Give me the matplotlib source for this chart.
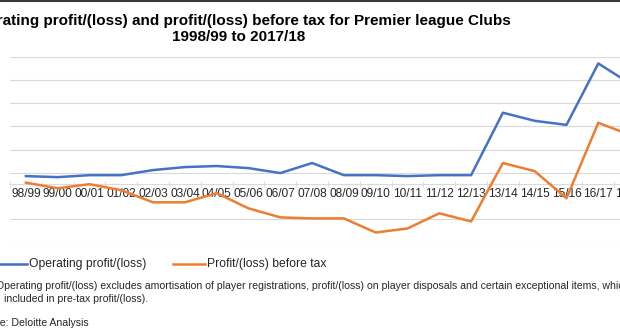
import matplotlib
matplotlib.use("Agg")
import matplotlib.pyplot as plt
from matplotlib.lines import Line2D

# 数据 (£m, 从图上估读)
seasons = ["98/99", "99/00", "00/01", "01/02", "02/03", "03/04", "04/05",
           "05/06", "06/07", "07/08", "08/09", "09/10", "10/11", "11/12",
           "12/13", "13/14", "14/15", "15/16", "16/17", "17/18"]
operating = [70, 61, 78, 78, 122, 148, 157, 139, 96, 183,
             78, 78, 70, 78, 78, 618, 548, 513, 1044, 870]
pretax = [13, -35, 0, -52, -157, -157, -78, -209, -287, -296,
          -296, -418, -383, -252, -322, 183, 113, -122, 531, 426]
grid_vals = [-500, -300, 100, 300, 500, 700, 900, 1100]

BLUE = "#4472C4"
ORANGE = "#ED7D31"
GRID = "#D9D9D9"
TXT = "#262626"

plt.rcParams["font.family"] = ["Liberation Sans", "DejaVu Sans"]

W, H = 620, 330
fig = plt.figure(figsize=(W / 100, H / 100), dpi=100)

# 绘图区 (左边和右边被裁掉了一部分)
ax = fig.add_axes([10 / W, 88 / H, 636 / W, 185 / H])
x = list(range(len(seasons)))
ax.plot(x, operating, color=BLUE, lw=1.8, zorder=3)
ax.plot(x, pretax, color=ORANGE, lw=1.8, zorder=3)

ax.set_xlim(-0.5, len(seasons) - 0.5)
ax.set_ylim(-500, 1100)
ax.set_yticks(grid_vals)
ax.tick_params(axis="y", length=0, labelleft=False)
ax.yaxis.grid(True, color=GRID, lw=0.8)

for s in ["top", "right", "left"]:
    ax.spines[s].set_visible(False)
ax.spines["bottom"].set_position(("data", 0))
ax.spines["bottom"].set_color(GRID)
ax.spines["bottom"].set_linewidth(0.8)

ax.set_xticks(x)
ax.set_xticklabels(seasons, fontsize=8.6, color=TXT)
ax.set_xticks([i - 0.5 for i in x], minor=True)
ax.tick_params(axis="x", which="major", length=0, pad=3)
ax.tick_params(axis="x", which="minor", length=4, color=GRID, direction="inout")

# 标题
fig.text(239 / W, 1 - 29 / H,
         "Operating profit/(loss) and profit/(loss) before tax for Premier league Clubs\n"
         "1998/99 to 2017/18",
         ha="center", va="center", multialignment="center",
         fontsize=11, fontweight="bold", linespacing=1.2)


def px(xp, yp):
    return xp / W, 1 - yp / H


# 图例
for (x0, x1), col, lab in [((-5, 27), BLUE, "Operating profit/(loss)"),
                          ((173, 205), ORANGE, "Profit/(loss) before tax")]:
    fig.add_artist(Line2D([x0 / W, x1 / W], [1 - 264 / H] * 2,
                          color=col, lw=1.8, transform=fig.transFigure))
    fig.text(*px(x1 + 2, 264), lab, ha="left", va="center", fontsize=8.7,
             color=TXT)

# 脚注
fig.text(*px(-4, 286),
         "Operating profit/(loss) excludes amortisation of player registrations, "
         "profit/(loss) on player disposals and certain exceptional items, which are",
         ha="left", va="center", fontsize=7.6, color=TXT)
fig.text(*px(4, 299), "included in pre-tax profit/(loss).",
         ha="left", va="center", fontsize=7.6, color=TXT)
fig.text(*px(-28, 323), "Source: Deloitte Analysis",
         ha="left", va="center", fontsize=7.6, color=TXT)

# 顶部的深色边线
fig.add_artist(Line2D([0, 1], [1 - 1 / H] * 2, color="#3a3a3a", lw=1.5,
                      transform=fig.transFigure))

fig.savefig("out.png", dpi=100)
